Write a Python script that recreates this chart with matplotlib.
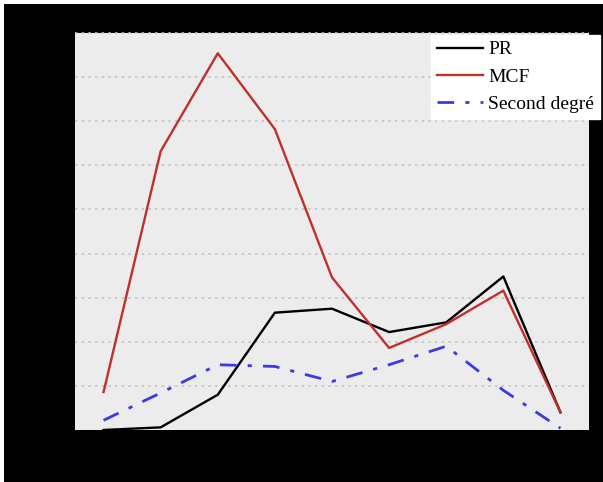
import matplotlib
matplotlib.use("Agg")
import matplotlib.pyplot as plt
from matplotlib.patches import Rectangle

# values (grid step = 5)
x = [1, 2, 3, 4, 5, 6, 7, 8, 9]
pr = [0.0, 0.3, 4.0, 13.3, 13.75, 11.1, 12.2, 17.4, 2.0]
mcf = [4.3, 31.6, 42.7, 34.1, 17.3, 9.3, 12.0, 15.8, 2.0]
second = [1.1, 4.2, 7.4, 7.2, 5.5, 7.4, 9.5, 4.5, 0.2]
yticks = [5, 10, 15, 20, 25, 30, 35, 40, 45]

W, H = 603, 482
fig = plt.figure(figsize=(W / 100, H / 100), dpi=100, facecolor="black")
# thin white strips on top and left of the black frame
fig.patches.append(Rectangle((0, 1 - 4 / H), 1, 4 / H, transform=fig.transFigure,
                             facecolor="white", edgecolor="none"))
fig.patches.append(Rectangle((0, 0), 4 / W, 1, transform=fig.transFigure,
                             facecolor="white", edgecolor="none"))

ax = fig.add_axes([75 / W, (H - 430) / H, 514 / W, 397 / H])
ax.set_facecolor("#ececec")
for s in ax.spines.values():
    s.set_visible(False)

ax.plot(x, pr, color="black", lw=1.7, label="PR")
ax.plot(x, mcf, color="#c0302a", lw=1.7, label="MCF")
ax.plot(x, second, color="#3a3ae6", lw=2.0, ls=(0, (6, 4, 1.5, 4)),
        label="Second degré")

ax.set_xlim(0.5, 9.5)
ax.set_ylim(0, 45)
ax.set_yticks(yticks)
ax.set_xticks(x)
ax.yaxis.grid(True, color="#c4c4c4", ls=(0, (1.5, 2.5)), lw=1.2, clip_on=False)
ax.set_axisbelow(True)
ax.tick_params(colors="black", labelcolor="black", length=0)

leg = ax.legend(loc="upper right", bbox_to_anchor=(600 / W, (H - 35) / H),
                bbox_transform=fig.transFigure, borderaxespad=0,
                prop={"family": "Liberation Serif", "size": 14},
                handlelength=2.4, handletextpad=0.25, labelspacing=0.5,
                borderpad=0.3, fancybox=False, framealpha=1)
leg.get_frame().set_edgecolor("white")
leg.get_frame().set_facecolor("white")

fig.savefig("out.png", dpi=100, facecolor=fig.get_facecolor())
